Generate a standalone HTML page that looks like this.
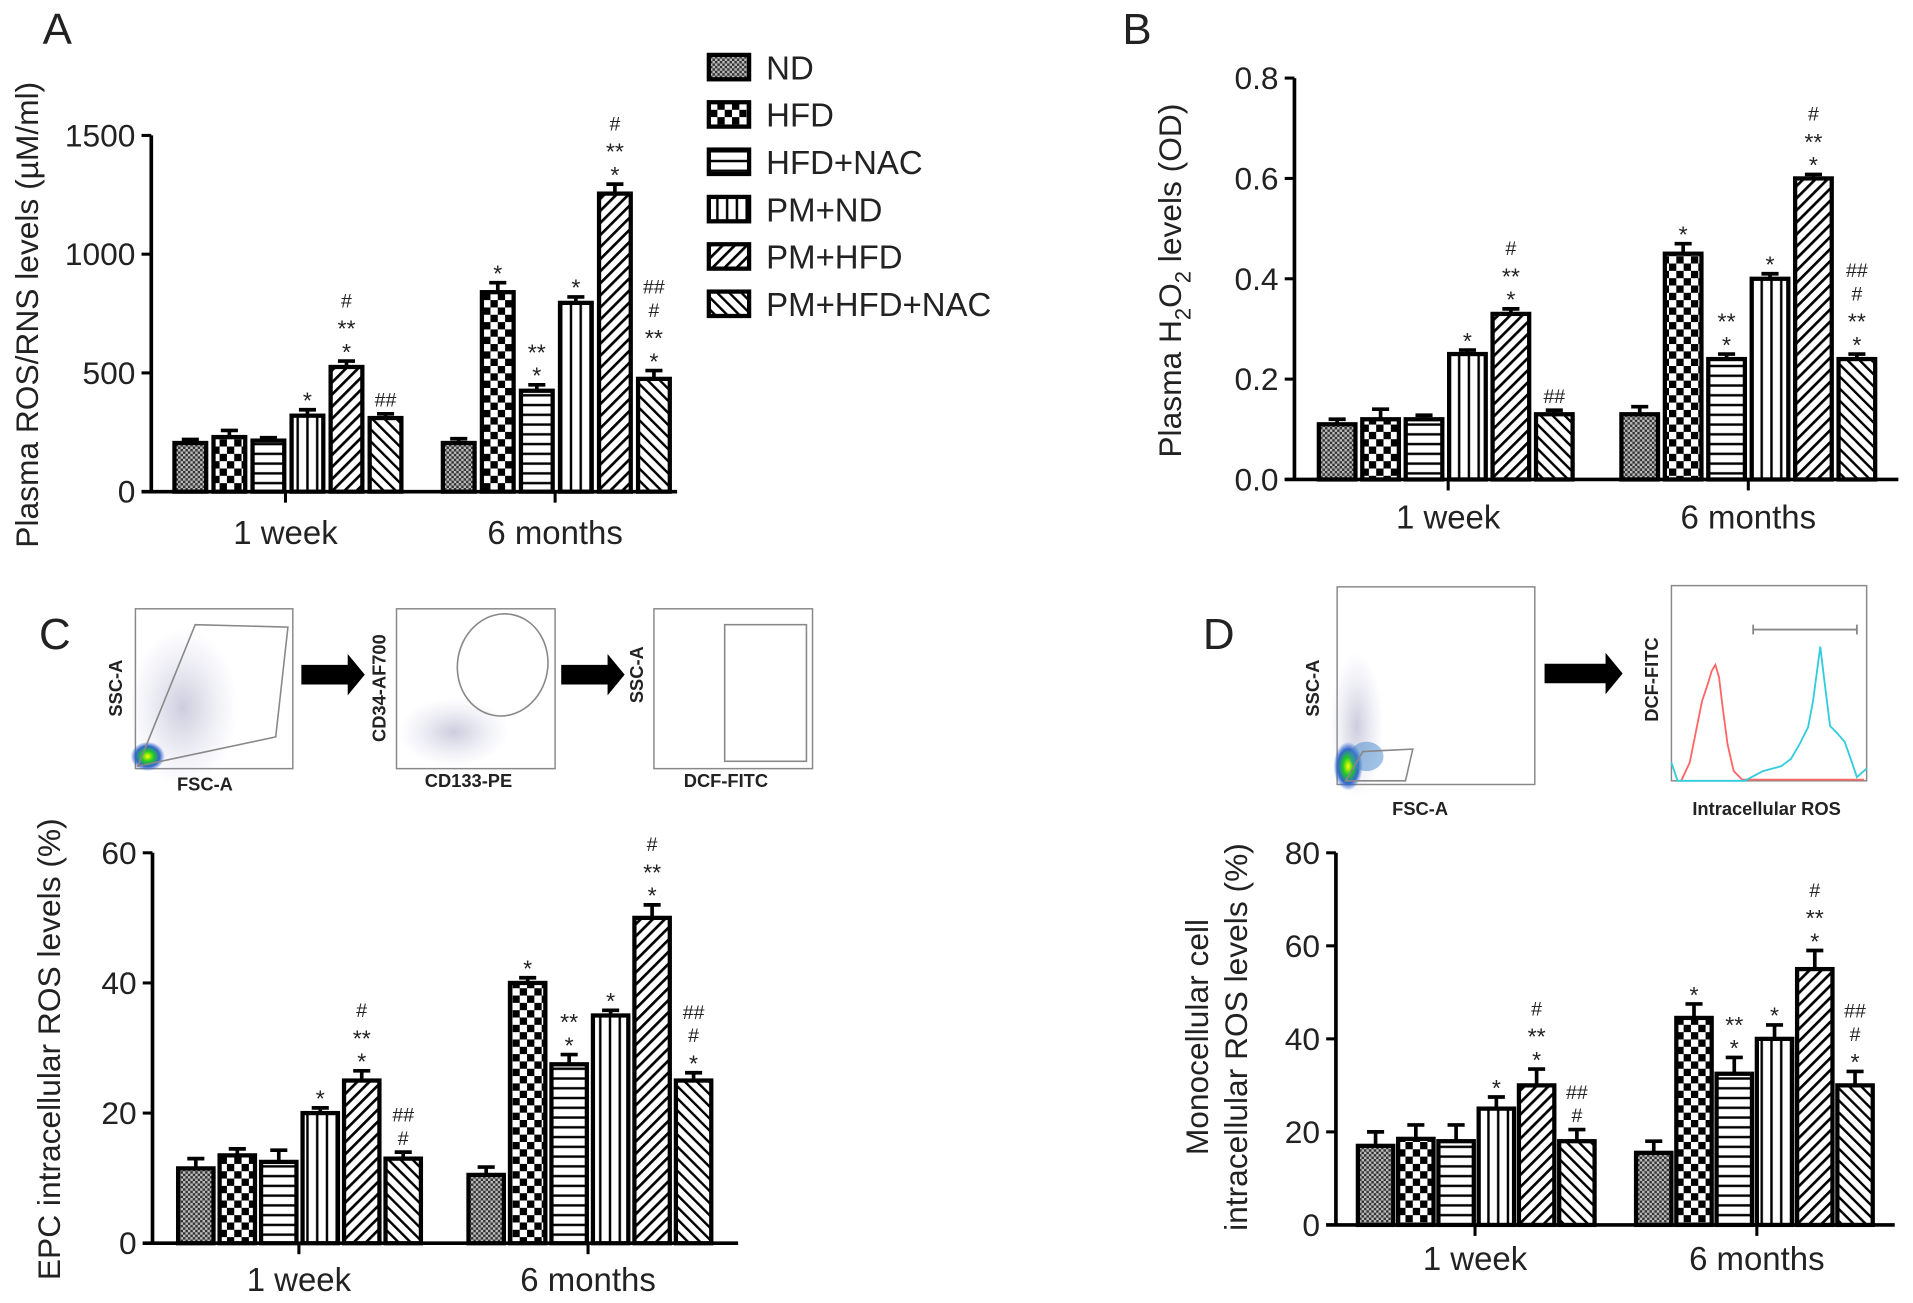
<!DOCTYPE html>
<html><head><meta charset="utf-8"><style>
html,body{margin:0;padding:0;background:#fff;}
svg{display:block;}
text{font-family:"Liberation Sans",Arial,sans-serif;fill:#222;}
</style></head><body>
<svg id="fig" width="1913" height="1303" viewBox="0 0 1568 1068" preserveAspectRatio="none" xmlns="http://www.w3.org/2000/svg">
<defs>
<pattern id="p0" width="4" height="4" patternUnits="userSpaceOnUse"><rect width="4" height="4" fill="#bbb"/><rect width="2" height="2" fill="#333"/><rect x="2" y="2" width="2" height="2" fill="#333"/></pattern>
<pattern id="p1" width="12" height="12" patternUnits="userSpaceOnUse"><rect width="12" height="12" fill="#fff"/><rect width="6" height="6" fill="#000"/><rect x="6" y="6" width="6" height="6" fill="#000"/></pattern>
<pattern id="p2" width="8" height="8" patternUnits="userSpaceOnUse"><rect width="8" height="8" fill="#fff"/><rect y="3" width="8" height="2" fill="#000"/></pattern>
<pattern id="p3" width="8" height="8" patternUnits="userSpaceOnUse"><rect width="8" height="8" fill="#fff"/><rect x="3" width="2" height="8" fill="#000"/></pattern>
<pattern id="p4" width="7" height="7" patternUnits="userSpaceOnUse" patternTransform="rotate(45)"><rect width="7" height="7" fill="#fff"/><rect x="0" width="2.2" height="7" fill="#000"/></pattern>
<pattern id="p5" width="7" height="7" patternUnits="userSpaceOnUse" patternTransform="rotate(-45)"><rect width="7" height="7" fill="#fff"/><rect x="0" width="2" height="7" fill="#000"/></pattern>
<radialGradient id="blob" cx="0.5" cy="0.5" r="0.5"><stop offset="0" stop-color="#ff0"/><stop offset="0.35" stop-color="#2c2"/><stop offset="0.7" stop-color="#36c"/><stop offset="1" stop-color="#36c" stop-opacity="0"/></radialGradient>
<radialGradient id="haze" cx="0.5" cy="0.5" r="0.5"><stop offset="0" stop-color="#99b" stop-opacity="0.5"/><stop offset="1" stop-color="#bbd" stop-opacity="0"/></radialGradient>
</defs>
<g id="root"></g>
</svg>
<script>
const NS='http://www.w3.org/2000/svg';
const groups=['1 week','6 months'];
const series=['ND','HFD','HFD+NAC','PM+ND','PM+HFD','PM+HFD+NAC'];
const aTicks=[0,500,1000,1500];
const aWeek=[205,230,215,320,525,310];
const aMonth=[205,840,425,795,1255,475];
const aErrW=[15,28,12,25,25,18];
const aErrM=[18,40,25,25,40,35];
const bTicks=[0.0,0.2,0.4,0.6,0.8];
const bWeek=[0.11,0.12,0.12,0.25,0.33,0.13];
const bMonth=[0.13,0.45,0.24,0.40,0.60,0.24];
const bErrW=[0.01,0.02,0.008,0.008,0.01,0.008];
const bErrM=[0.015,0.02,0.01,0.01,0.008,0.01];
const cTicks=[0,20,40,60];
const cWeek=[11.5,13.5,12.5,20,25,13];
const cMonth=[10.5,40,27.5,35,50,25];
const cErrW=[1.5,1,1.8,0.8,1.5,1];
const cErrM=[1.2,0.8,1.5,0.8,2,1.2];
const dTicks=[0,20,40,60,80];
const dWeek=[17,18.5,18,25,30,18];
const dMonth=[15.5,44.5,32.5,40,55,30];
const dErrW=[3,3,3.5,2.5,3.5,2.5];
const dErrM=[2.5,3,3.5,3,4,3];
const sigAW=[[],[],[],['*'],['#','**','*'],['##']];
const sigAM=[[],['*'],['**','*'],['*'],['#','**','*'],['##','#','**','*']];
const sigCW=[[],[],[],['*'],['#','**','*'],['##','#']];
const sigCM=[[],['*'],['**','*'],['*'],['#','**','*'],['##','#','*']];

const root=document.getElementById('root');
function el(tag,attrs,parent){const e=document.createElementNS(NS,tag);for(const k in attrs)e.setAttribute(k,attrs[k]);(parent||root).appendChild(e);return e;}
function txt(s,attrs,parent){const e=el('text',attrs,parent);e.textContent=s;return e;}

function chart(cfg){
  const g=el('g',{});
  
  
  const max=cfg.ticks[cfg.ticks.length-1];
  const Y=v=>cfg.y0-(v/max)*(cfg.y0-cfg.yTop);
  // axes
  const ya=el('line',{x1:cfg.ax,y1:cfg.yTop,x2:cfg.ax,y2:cfg.y0,stroke:'#000','stroke-width':3},g);
  
  const xa=el('line',{x1:cfg.ax-8,y1:cfg.y0,x2:cfg.xEnd,y2:cfg.y0,stroke:'#000','stroke-width':3},g);
  
  cfg.ticks.forEach(t=>{
    el('line',{x1:cfg.ax-8,y1:Y(t),x2:cfg.ax,y2:Y(t),stroke:'#000','stroke-width':2.5},g);
    const tl=txt(cfg.fmt(t),{x:cfg.ax-13,y:Y(t)+9,'text-anchor':'end','font-size':26},g);
    
  });
  cfg.data.forEach((vals,gi)=>{
    const x0=cfg.starts[gi];
    el('line',{x1:cfg.ctick[gi],y1:cfg.y0,x2:cfg.ctick[gi],y2:cfg.y0+9,stroke:'#000','stroke-width':2.5},g);
    const cl=txt(groups[gi],{x:cfg.ctick[gi],y:cfg.labY,'text-anchor':'middle','font-size':27},g);
    
    vals.forEach((v,i)=>{
      const x=x0+i*cfg.step, w=cfg.bw, top=Y(v), e=cfg.errs[gi][i];
      const et=Y(v+e);
      el('line',{x1:x+w/2,y1:top,x2:x+w/2,y2:et,stroke:'#000','stroke-width':3},g);
      el('line',{x1:x+w/2-7,y1:et,x2:x+w/2+7,y2:et,stroke:'#000','stroke-width':3},g);
      const r=el('rect',{x:x,y:top,width:w,height:cfg.y0-top,fill:'url(#p'+i+')',stroke:'#000','stroke-width':3.5},g);
      
      
      const sig=cfg.sig[gi][i];
      sig.forEach((s,k)=>{
        const yy=et-6-(sig.length-1-k)*19;
        const st=txt(s,{x:x+w/2,y:s.indexOf('#')>=0?yy:yy+5,'text-anchor':'middle','font-size':s.indexOf('#')>=0?16:19},g);
        
      });
    });
  });
  return g;
}

chart({name:'chart-a-ros-rns',ax:124,yTop:111,y0:403,xEnd:555,ticks:aTicks,fmt:t=>String(t),
  data:[aWeek,aMonth],errs:[aErrW,aErrM],sig:[sigAW,sigAM],starts:[143,363],step:32,bw:26,ctick:[234,455],labY:446});
chart({name:'chart-b-h2o2',ax:1061,yTop:64,y0:393,xEnd:1556,ticks:bTicks,fmt:t=>t.toFixed(1),
  data:[bWeek,bMonth],errs:[bErrW,bErrM],sig:[sigAW,sigAM],starts:[1081,1329],step:35.6,bw:30,ctick:[1187,1433],labY:433});
chart({name:'chart-c-epc-ros',ax:125,yTop:699,y0:1019,xEnd:605,ticks:cTicks,fmt:t=>String(t),
  data:[cWeek,cMonth],errs:[cErrW,cErrM],sig:[sigCW,sigCM],starts:[146,384],step:34,bw:29,ctick:[245,482],labY:1058});
chart({name:'chart-d-monocellular-ros',ax:1095,yTop:699,y0:1004,xEnd:1553,ticks:dTicks,fmt:t=>String(t),
  data:[dWeek,dMonth],errs:[dErrW,dErrM],sig:[sigCW,sigCM],starts:[1113,1341],step:33,bw:29,ctick:[1209,1440],labY:1041});

// y-axis titles
function ytitle(s,x,y,name,size){const t=txt(s,{x:x,y:y,'text-anchor':'middle','font-size':size||26,transform:'rotate(-90 '+x+' '+y+')'});return t;}
ytitle('Plasma ROS/RNS levels (µM/ml)',31,258,'y-axis-title-a');
(function(){const x=968,y=230;const t=el('text',{x:x,y:y,'text-anchor':'middle','font-size':26,transform:'rotate(-90 '+x+' '+y+')'});

t.innerHTML='Plasma H<tspan font-size="18" dy="8">2</tspan><tspan dy="-8">O</tspan><tspan font-size="18" dy="8">2</tspan><tspan dy="-8"> levels (OD)</tspan>';})();
ytitle('EPC intracellular ROS levels (%)',49,860,'y-axis-title-c');
ytitle('Monocellular cell',990,850,'y-axis-title-d-line1');
ytitle('intracellular ROS levels (%)',1022,850,'y-axis-title-d-line2');

// panel letters
[['A',35,36],['B',920,36],['C',32,532],['D',986,532]].forEach(p=>{const t=txt(p[0],{x:p[1],y:p[2],'font-size':36});});

// legend
series.forEach((s,i)=>{
  const y=55+i*38.8;
  const r=el('rect',{x:581,y:y-10,width:33,height:20,fill:'url(#p'+i+')',stroke:'#000','stroke-width':3.5});
  
  const t=txt(s,{x:628,y:y+10,'font-size':27});
  
});

// flow plots
function box(x,y,w,h,name){const b=el('rect',{x:x,y:y,width:w,height:h,fill:'#fff',stroke:'#888','stroke-width':1.2});return b;}
function arrow(x1,x2,y,name){const a=el('path',{d:`M${x1} ${y-8}H${x2-14}V${y-17}L${x2} ${y}L${x2-14} ${y+17}V${y+8}H${x1}Z`,fill:'#000'});}
function blab(s,x,y,rot,name){const t=txt(s,{x:x,y:y,'text-anchor':'middle','font-size':15,'font-weight':'bold',transform:rot?'rotate(-90 '+x+' '+y+')':''});}
// C
box(111,499,129,131,'scatter-fsc-ssc-c');
el('ellipse',{cx:150,cy:580,rx:45,ry:65,fill:'url(#haze)'});
el('ellipse',{cx:121,cy:620,rx:14,ry:12,fill:'url(#blob)'});
el('path',{d:'M113 628 L160 512 L236 514 L226 604 Z',fill:'none',stroke:'#888','stroke-width':1.3});
box(325,499,130,131,'scatter-cd133-cd34');
el('ellipse',{cx:372,cy:600,rx:45,ry:28,fill:'url(#haze)'});
el('ellipse',{cx:412,cy:545,rx:37,ry:42,fill:'none',stroke:'#888','stroke-width':1.3,transform:'rotate(10 412 545)'});
box(536,499,130,131,'scatter-dcf-ssc');
el('rect',{x:594,y:512,width:67,height:112,fill:'none',stroke:'#888','stroke-width':1.3});
arrow(247,299,553,'gating-arrow-1');arrow(460,512,553,'gating-arrow-2');
blab('SSC-A',100,564,true,'axis-label-ssc-a');blab('FSC-A',168,648,false,'axis-label-fsc-a');
blab('CD34-AF700',316,564,true,'axis-label-cd34');blab('CD133-PE',384,645,false,'axis-label-cd133');
blab('SSC-A',527,553,true,'axis-label-ssc-a');blab('DCF-FITC',595,645,false,'axis-label-dcf-fitc');
// D
box(1096,481,162,162,'scatter-fsc-ssc-d');
el('ellipse',{cx:1112,cy:595,rx:22,ry:60,fill:'url(#haze)'});
el('ellipse',{cx:1105,cy:628,rx:12,ry:20,fill:'url(#blob)'});
el('ellipse',{cx:1120,cy:620,rx:14,ry:12,fill:'#48c',opacity:0.5});
el('path',{d:'M1103 640 L1117 616 L1158 614 L1152 640 Z',fill:'none',stroke:'#888','stroke-width':1.3});
arrow(1266,1330,552,'gating-arrow-3');
box(1370,480,160,160,'histogram-intracellular-ros');
el('line',{x1:1437,y1:516,x2:1522,y2:516,stroke:'#888','stroke-width':1.5});
el('line',{x1:1437,y1:512,x2:1437,y2:520,stroke:'#888','stroke-width':1.5});
el('line',{x1:1522,y1:512,x2:1522,y2:520,stroke:'#888','stroke-width':1.5});
const red=el('path',{d:'M1378 640 L1385 625 L1390 600 L1395 575 L1400 560 L1403 550 L1406 545 L1409 555 L1412 580 L1416 610 L1421 632 L1428 639 L1528 639',fill:'none',stroke:'#f66','stroke-width':1.5});

const cyan=el('path',{d:'M1370 625 L1375 640 L1430 640 L1445 632 L1460 628 L1468 622 L1475 610 L1482 596 L1486 575 L1490 545 L1492 530 L1495 555 L1500 595 L1505 600 L1512 608 L1518 625 L1522 637 L1530 630',fill:'none',stroke:'#3cd','stroke-width':1.5});

blab('SSC-A',1081,564,true,'axis-label-ssc-a-d');blab('FSC-A',1164,668,false,'axis-label-fsc-a-d');
blab('DCF-FITC',1359,557,true,'axis-label-dcf-fitc-d');blab('Intracellular ROS',1448,668,false,'axis-label-intracellular-ros');
</script>
</body></html>
